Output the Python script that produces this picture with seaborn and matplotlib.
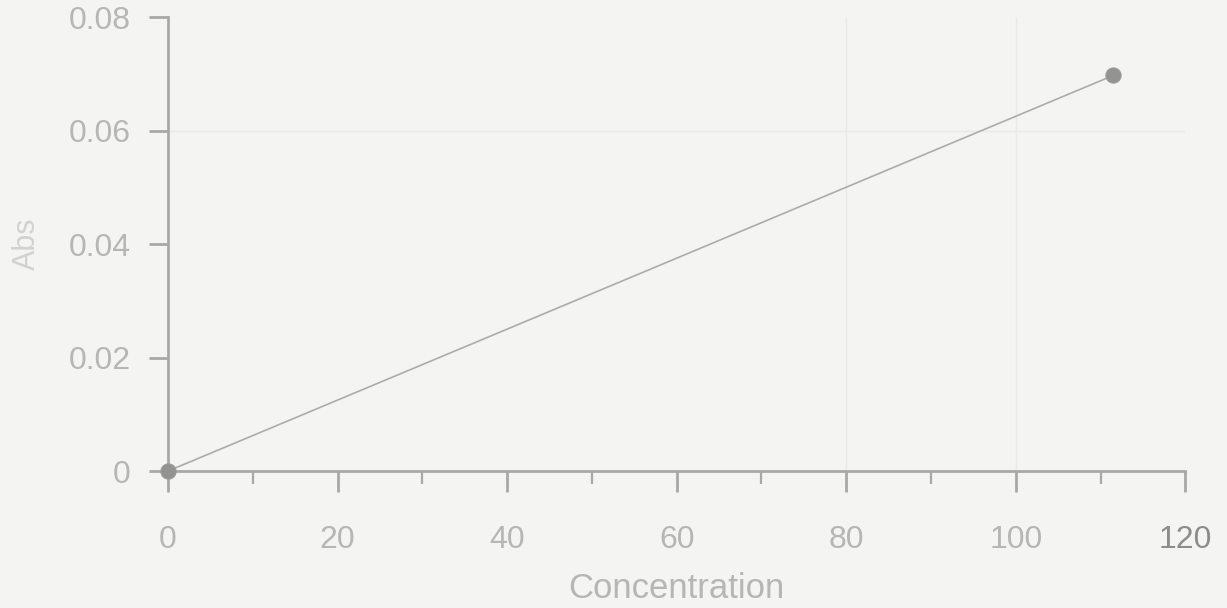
import matplotlib
matplotlib.use("Agg")
import matplotlib.pyplot as plt
from matplotlib.ticker import MultipleLocator
import seaborn as sns
import pandas as pd

# Calibration data
concentration = [0.0, 111.5]
absorbance = [0.0, 0.0697]
x_ticks = [0, 20, 40, 60, 80, 100, 120]
x_tick_labels = ["0", "20", "40", "60", "80", "100", "120"]
y_ticks = [0.0, 0.02, 0.04, 0.06, 0.08]
y_tick_labels = ["0", "0.02", "0.04", "0.06", "0.08"]

df = pd.DataFrame({"Concentration": concentration, "Abs": absorbance})

sns.set_theme(style="white")
plt.rcParams["font.family"] = ["Liberation Sans", "DejaVu Sans"]

bg = "#f4f4f2"
label_col = "#b6b6b4"
axis_col = "#a8a8a6"

fig = plt.figure(figsize=(12.27, 6.08), dpi=100, facecolor=bg)
ax = fig.add_axes([0.137, 0.2253, 0.829, 0.7467])
ax.set_facecolor(bg)

# faint grid
for gx in [80, 100]:
    ax.axvline(gx, color="#e9e9e7", lw=1, zorder=0)
ax.axhline(0.06, color="#e9e9e7", lw=1, zorder=0)

sns.lineplot(data=df, x="Concentration", y="Abs", ax=ax,
             color="#acacaa", lw=1.2, marker="o", markersize=11,
             markerfacecolor="#939391", markeredgecolor="#9c9c9a",
             zorder=3, clip_on=False)

ax.set_xlim(0, 120)
ax.set_ylim(0, 0.08)
ax.set_xticks(x_ticks)
ax.set_xticklabels(x_tick_labels)
ax.set_yticks(y_ticks)
ax.set_yticklabels(y_tick_labels)
ax.xaxis.set_minor_locator(MultipleLocator(10))

for s in ["top", "right"]:
    ax.spines[s].set_visible(False)
for s in ["left", "bottom"]:
    ax.spines[s].set_color(axis_col)
    ax.spines[s].set_linewidth(2)

ax.tick_params(axis="x", which="major", direction="out", length=15, width=2,
               color=axis_col, labelcolor=label_col, labelsize=23, pad=24,
               bottom=True)
ax.tick_params(axis="x", which="minor", direction="out", length=9, width=1.6,
               color=axis_col, bottom=True)
ax.tick_params(axis="y", which="major", direction="out", length=14, width=2,
               color=axis_col, labelcolor=label_col, labelsize=23, pad=13,
               left=True)

# the rightmost label reads darker
ax.get_xticklabels()[-1].set_color("#8c8c8a")

ax.set_xlabel("Concentration", fontsize=25, color=label_col, labelpad=12)
ax.set_ylabel("Abs", fontsize=22, color="#d2d2d0", labelpad=19)

fig.savefig("out.png", dpi=100, facecolor=bg)
